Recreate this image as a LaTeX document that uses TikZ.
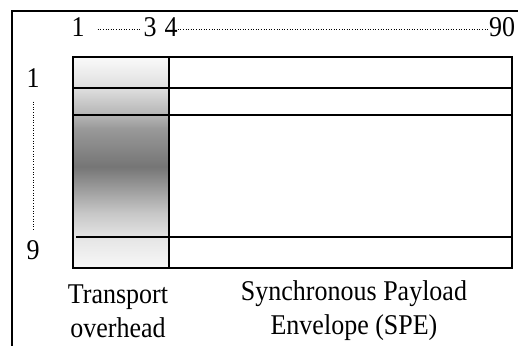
\documentclass[tikz,border=0pt]{standalone}
\usepackage{fontspec}
\setmainfont{Liberation Serif}
\usetikzlibrary{positioning}
\pgfdeclareverticalshading{overheadfade}{100bp}{color(0bp)=(black!3); color(25bp)=(black!3); color(32bp)=(black!10); color(38bp)=(black!22); color(49bp)=(black!54); color(58bp)=(black!40); color(61bp)=(black!30); color(67.5bp)=(black!13); color(75bp)=(black!2); color(100bp)=(black!2)}

\begin{document}
\begin{tikzpicture}[x=1pt,y=-1pt,
  num/.style={font=\fontsize{26}{30}\selectfont,inner sep=0pt,yscale=1.1},
  caption/.style={font=\fontsize{26}{31}\selectfont,inner sep=0pt,align=center,yscale=1.1},
  dots/.style={line width=1pt,dash pattern=on 1pt off 1.6pt}]
 \useasboundingbox (0,0) rectangle (518,346);
 \draw[line width=2pt](518,11)--(12,11)--(12,346); 
 % overhead column
 \shade[shading=overheadfade](73,57) rectangle (169,268); 
 \draw[line width=1.5pt](169,57) rectangle (512,268); 
 \draw[line width=1.5pt](73,88)--(512,88); 
 \draw[line width=1.5pt](73,115)--(512,115); 
 \draw[line width=1.5pt](76,237)--(512,237); 
 \draw[line width=2.5pt](73,57) rectangle (169,268); 
 % column numbers
 \node[num] (c1) at (78,27) {1};
 \node[num] (c3) at (150,27) {3};
 \node[num] (c4) at (171,27) {4};
 \node[num] (c90) at (502,27) {90};
 \draw[dots,shorten <=13pt,shorten >=2pt]([yshift=-2pt]c1.east)--([yshift=-2pt]c3.west); 
 \draw[dots]([yshift=-2pt]c4.east)--([yshift=-2pt]c90.west); 
 % row numbers
 \node[num] (r1) at (33,78) {1};
 \node[num] (r9) at (33,250) {9};
 \draw[dots,shorten <=14pt,shorten >=11pt](r1.south)--(r9.north); 
 % captions
 \node[caption] (toh) at (118,311) {Transport\\overhead};
 \node[caption] (spe) at (354,311) {Synchronous Payload\\Envelope (SPE)};
\end{tikzpicture}
\end{document}
